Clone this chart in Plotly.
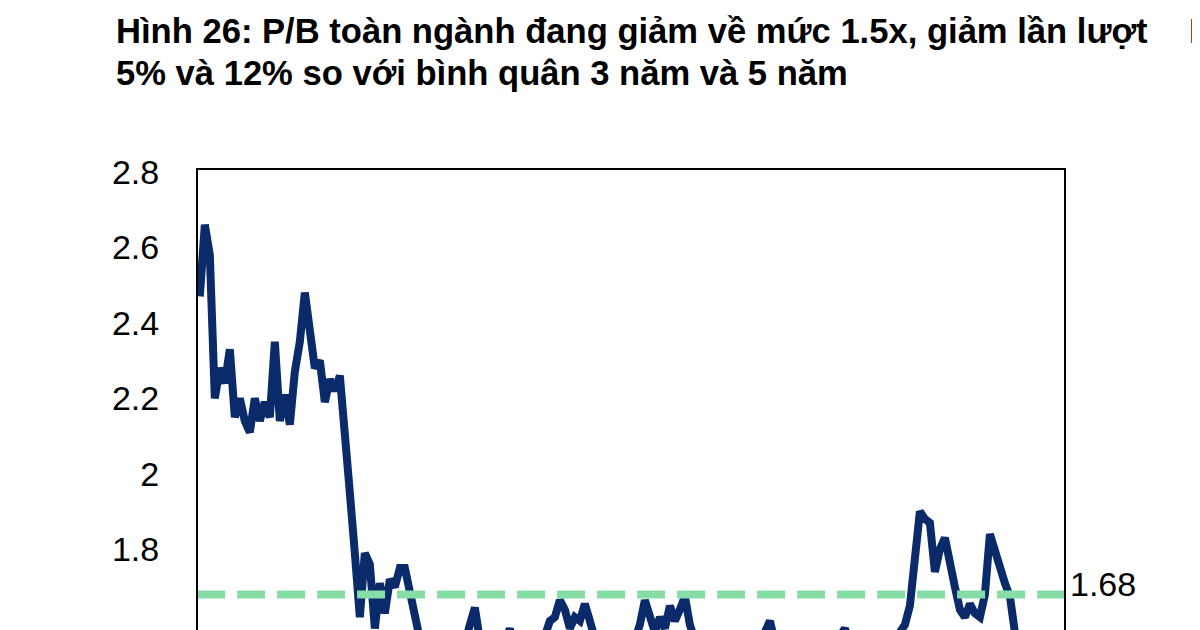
import pandas as pd
import plotly.graph_objects as go

# ---- data ----
title_line1 = "Hình 26: P/B toàn ngành đang giảm về mức 1.5x, giảm lần lượt"
title_line2 = "5% và 12% so với bình quân 3 năm và 5 năm"

pb = [
    2.47, 2.66, 2.58, 2.20, 2.28, 2.24, 2.33, 2.15, 2.20, 2.14,
    2.11, 2.20, 2.14, 2.19, 2.15, 2.35, 2.14, 2.21, 2.13, 2.27,
    2.35, 2.48, 2.38, 2.28, 2.30, 2.19, 2.25, 2.22, 2.26, 2.13,
    1.95, 1.79, 1.62, 1.79, 1.76, 1.59, 1.71, 1.63, 1.72, 1.70,
    1.75, 1.75, 1.69, 1.61, 1.54, 1.50, 1.47, 1.45, 1.48, 1.46,
    1.50, 1.48, 1.52, 1.55, 1.60, 1.645, 1.56, 1.50, 1.46, 1.48,
    1.52, 1.55, 1.59, 1.53, 1.48, 1.45, 1.47, 1.50, 1.54, 1.57,
    1.61, 1.62, 1.665, 1.64, 1.59, 1.62, 1.61, 1.655, 1.61, 1.55,
    1.50, 1.47, 1.45, 1.47, 1.50, 1.48, 1.52, 1.56, 1.60, 1.665,
    1.62, 1.58, 1.62, 1.59, 1.65, 1.61, 1.64, 1.675, 1.60, 1.55,
    1.50, 1.47, 1.44, 1.46, 1.48, 1.45, 1.47, 1.50, 1.52, 1.49,
    1.51, 1.54, 1.57, 1.58, 1.61, 1.55, 1.50, 1.48, 1.46, 1.48,
    1.50, 1.47, 1.45, 1.48, 1.50, 1.52, 1.54, 1.55, 1.57, 1.59,
    1.55, 1.50, 1.48, 1.50, 1.52, 1.50, 1.53, 1.55, 1.54, 1.56,
    1.58, 1.60, 1.65, 1.76, 1.90, 1.88, 1.87, 1.74, 1.80, 1.83,
    1.75, 1.70, 1.64, 1.62, 1.655, 1.63, 1.62, 1.68, 1.84, 1.79,
    1.75, 1.71, 1.675, 1.58, 1.55, 1.51,
]
avg_5y = 1.68
avg_3y = 1.57
y_ticks = [1.6, 1.8, 2.0, 2.2, 2.4, 2.6, 2.8]
y_tick_labels = ["1.6", "1.8", "2", "2.2", "2.4", "2.6", "2.8"]

dates = pd.date_range("2019-04-01", periods=len(pb), freq="11D")

# ---- styling ----
NAVY = "#0B2A69"
GREEN = "#86DDA8"
FONT = "Liberation Sans, Arial, sans-serif"
OFF = 8  # page body margin offset
W, H = 1200 - OFF, 630 - OFF
L, T, B = 198 - OFF, 170 - OFF, 0
R = W - (1064 - OFF)
plot_w = W - L - R
plot_h = H - T - B


def px_to_paper_x(px):
    return (px - OFF - L) / plot_w


def px_to_paper_y(py):
    return 1 + (T - (py - OFF)) / plot_h


fig = go.Figure()
fig.add_trace(go.Scatter(
    x=dates, y=pb, mode="lines",
    line=dict(color=NAVY, width=8),
    hoverinfo="x+y", showlegend=False,
))
for v in (avg_5y, avg_3y):
    fig.add_trace(go.Scatter(
        x=[dates[0] - pd.Timedelta(days=6), dates[-1] + pd.Timedelta(days=90)],
        y=[v, v], mode="lines",
        line=dict(color=GREEN, width=8, dash="28px,12px"),
        showlegend=False, hoverinfo="y",
    ))

fig.update_layout(
    width=W, height=H,
    margin=dict(l=L, r=R, t=T, b=B, pad=0),
    paper_bgcolor="white", plot_bgcolor="white",
    font=dict(family=FONT, color="black"),
    xaxis=dict(
        range=[dates[0] - pd.Timedelta(days=4), dates[-1] + pd.Timedelta(days=86)],
        side="top", showline=True, linecolor="black", linewidth=2,
        showgrid=False, zeroline=False, showticklabels=False, ticks="",
    ),
    yaxis=dict(
        range=[1.586, 2.805],
        tickvals=y_ticks, ticktext=y_tick_labels,
        tickfont=dict(size=34, family=FONT, color="black"),
        showline=True, mirror=True, linecolor="black", linewidth=2,
        showgrid=False, zeroline=False, ticks="",
        ticklabelstandoff=30,
    ),
)

TITLE_SIZE = 34.6
annotations = [
    dict(text=f"<b>{title_line1}</b>", x=px_to_paper_x(114), y=px_to_paper_y(31),
         xref="paper", yref="paper", xanchor="left", yanchor="middle",
         showarrow=False, font=dict(size=TITLE_SIZE, family=FONT, color="black")),
    dict(text=f"<b>{title_line2}</b>", x=px_to_paper_x(114), y=px_to_paper_y(73),
         xref="paper", yref="paper", xanchor="left", yanchor="middle",
         showarrow=False, font=dict(size=TITLE_SIZE, family=FONT, color="black")),
    dict(text="<b>Hình 27</b>", x=px_to_paper_x(1187), y=px_to_paper_y(31),
         xref="paper", yref="paper", xanchor="left", yanchor="middle",
         showarrow=False, font=dict(size=TITLE_SIZE, family=FONT, color="black")),
    dict(text="<b>3</b>", x=px_to_paper_x(1190), y=px_to_paper_y(73),
         xref="paper", yref="paper", xanchor="left", yanchor="middle",
         showarrow=False, font=dict(size=TITLE_SIZE, family=FONT, color="#8a6a2e")),
    dict(text=f"{avg_5y:.2f}", x=1, xref="paper", y=avg_5y, yref="y",
         xanchor="left", yanchor="middle", xshift=4, yshift=11, showarrow=False,
         font=dict(size=34, family=FONT, color="black")),
    dict(text=f"{avg_3y:.2f}", x=1, xref="paper", y=avg_3y, yref="y",
         xanchor="left", yanchor="middle", xshift=4, yshift=3, showarrow=False,
         font=dict(size=34, family=FONT, color="black")),
]
fig.update_layout(annotations=annotations)

fig.write_html("out.html")
